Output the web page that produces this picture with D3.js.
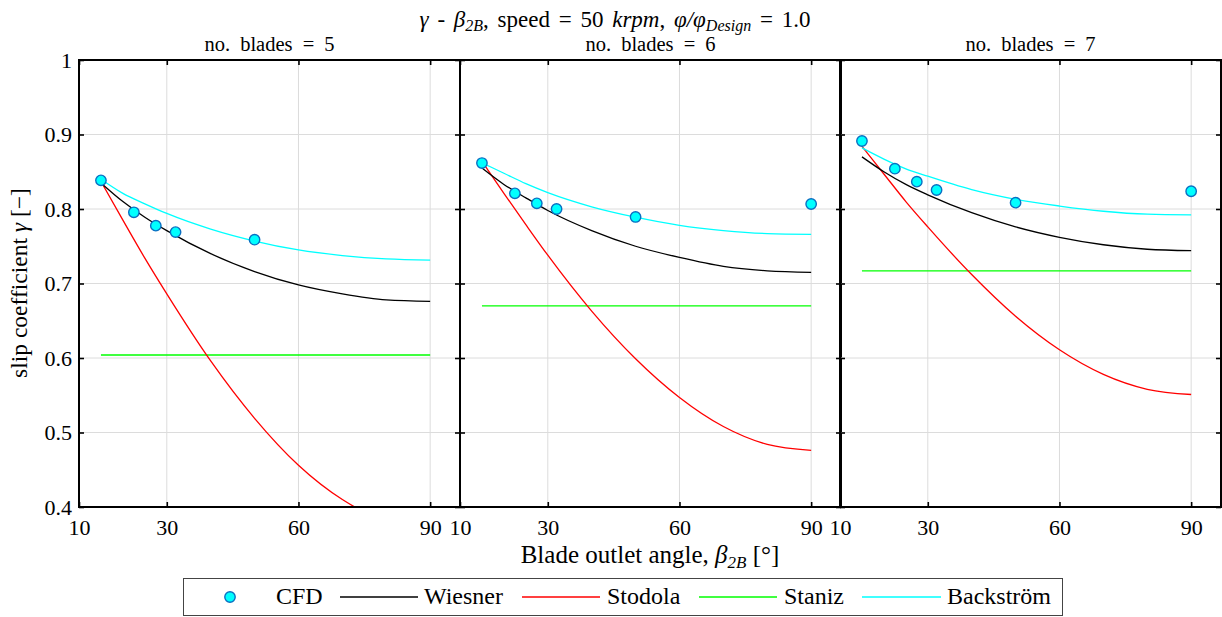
<!DOCTYPE html>
<html>
<head>
<meta charset="utf-8">
<script src="https://cdn.jsdelivr.net/npm/d3@7"></script>
<style>
  html, body { margin: 0; padding: 0; background: #fff; }
  svg { display: block; font-family: "Liberation Serif", "DejaVu Serif", serif; }
</style>
</head>
<body>
<svg id="chart" width="1222" height="617"></svg>
<script>
// ---------------- data ----------------
const blades = [5, 6, 7];
const xTicks = [10, 30, 60, 90];
const yTicks = [0.4, 0.5, 0.6, 0.7, 0.8, 0.9, 1];
const yTickLabels = ["0.4", "0.5", "0.6", "0.7", "0.8", "0.9", "1"];

// blade outlet angle samples for the correlation curves
const betaGrid = [15, 20, 25, 30, 40, 50, 60, 70, 80, 90];

const wiesner5 = [0.835, 0.810, 0.789, 0.771, 0.740, 0.716, 0.698, 0.686, 0.678, 0.676];
const wiesner6 = [0.855, 0.833, 0.815, 0.798, 0.771, 0.750, 0.735, 0.723, 0.717, 0.715];
const wiesner7 = [0.870, 0.850, 0.833, 0.819, 0.795, 0.776, 0.762, 0.752, 0.746, 0.744];

const stodola5 = [0.837, 0.785, 0.734, 0.686, 0.596, 0.519, 0.456, 0.410, 0.381, 0.372];
const stodola6 = [0.864, 0.821, 0.779, 0.738, 0.663, 0.599, 0.547, 0.508, 0.484, 0.476];
const stodola7 = [0.884, 0.847, 0.810, 0.776, 0.712, 0.656, 0.611, 0.578, 0.558, 0.551];

const stanizBeta = [15, 90];
const staniz5 = [0.604, 0.604];
const staniz6 = [0.670, 0.670];
const staniz7 = [0.717, 0.717];

const backstrom5 = [0.840, 0.821, 0.807, 0.794, 0.773, 0.757, 0.745, 0.7375, 0.733, 0.7315];
const backstrom6 = [0.862, 0.848, 0.834, 0.822, 0.803, 0.789, 0.778, 0.771, 0.767, 0.766];
const backstrom7 = [0.882, 0.867, 0.854, 0.844, 0.826, 0.813, 0.804, 0.797, 0.793, 0.792];

const cfdBeta = [15, 22.5, 27.5, 32, 50, 90];
const cfd5 = [0.8385, 0.7956, 0.7776, 0.769, 0.7588, null];
const cfd6 = [0.8617, 0.821, 0.8076, 0.800, 0.7893, 0.8067];
const cfd7 = [0.8913, 0.8541, 0.8367, 0.8255, 0.8085, 0.8238];

const seriesNames = ["CFD", "Wiesner", "Stodola", "Staniz", "Backström"];
const seriesColors = { Wiesner: "#000000", Stodola: "#ff0000", Staniz: "#00ff00", Backström: "#00ffff" };

const panels = [
  { z: blades[0], wiesner: wiesner5, stodola: stodola5, staniz: staniz5, backstrom: backstrom5, cfd: cfd5 },
  { z: blades[1], wiesner: wiesner6, stodola: stodola6, staniz: staniz6, backstrom: backstrom6, cfd: cfd6 },
  { z: blades[2], wiesner: wiesner7, stodola: stodola7, staniz: staniz7, backstrom: backstrom7, cfd: cfd7 }
];

// ---------------- layout ----------------
const svg = d3.select("#chart");
const panelLefts = [79, 460, 840];
const panelW = 381;
const plotTop = 60, plotBottom = 507;
const xDomain = [10, 96.8];

const y = d3.scaleLinear().domain([0.4, 1]).range([plotBottom, plotTop]);

const defs = svg.append("defs");

panels.forEach((p, i) => {
  const left = panelLefts[i];
  const x = d3.scaleLinear().domain(xDomain).range([left, left + panelW]);
  const g = svg.append("g");

  defs.append("clipPath").attr("id", "clip" + i)
    .append("rect").attr("x", left).attr("y", plotTop).attr("width", panelW).attr("height", plotBottom - plotTop);

  // grid
  const grid = g.append("g");
  grid.selectAll("line.vg").data(xTicks.filter(t => t > 10)).enter().append("line")
    .attr("x1", d => x(d)).attr("x2", d => x(d)).attr("y1", plotTop).attr("y2", plotBottom)
    .attr("stroke", "#dcdcdc").attr("stroke-width", 1);
  grid.selectAll("line.hg").data(yTicks.filter(t => t > 0.4 && t < 1)).enter().append("line")
    .attr("x1", left).attr("x2", left + panelW).attr("y1", d => y(d)).attr("y2", d => y(d))
    .attr("stroke", "#dcdcdc").attr("stroke-width", 1);

  // curves
  const plot = g.append("g").attr("clip-path", "url(#clip" + i + ")");
  const line = d3.line().x(d => x(d[0])).y(d => y(d[1])).curve(d3.curveMonotoneX);
  const curves = [
    { name: "Staniz", xs: stanizBeta, ys: p.staniz },
    { name: "Stodola", xs: betaGrid, ys: p.stodola },
    { name: "Wiesner", xs: betaGrid, ys: p.wiesner },
    { name: "Backström", xs: betaGrid, ys: p.backstrom }
  ];
  curves.forEach(c => {
    plot.append("path")
      .attr("d", line(c.xs.map((b, k) => [b, c.ys[k]])))
      .attr("fill", "none").attr("stroke", seriesColors[c.name]).attr("stroke-width", 1.3);
  });

  // CFD markers
  const pts = cfdBeta.map((b, k) => [b, p.cfd[k]]).filter(d => d[1] != null);
  g.append("g").selectAll("circle").data(pts).enter().append("circle")
    .attr("cx", d => x(d[0])).attr("cy", d => y(d[1])).attr("r", 5.2)
    .attr("fill", "#00ffff").attr("stroke", "#0a6fc2").attr("stroke-width", 1.4);

  // axes (inward ticks)
  const axB = d3.axisBottom(x).tickValues(xTicks).tickSize(-5).tickPadding(12).tickFormat(d3.format("d"));
  const axT = d3.axisTop(x).tickValues(xTicks).tickSize(-5).tickFormat("");
  const axL = d3.axisLeft(y).tickValues(yTicks).tickSize(-5).tickPadding(7)
    .tickFormat((d, k) => i === 0 ? yTickLabels[k] : "");
  const axR = d3.axisRight(y).tickValues(yTicks).tickSize(-5).tickFormat("");

  const gb = g.append("g").attr("transform", `translate(0,${plotBottom})`).call(axB);
  const gt = g.append("g").attr("transform", `translate(0,${plotTop})`).call(axT);
  const gl = g.append("g").attr("transform", `translate(${left},0)`).call(axL);
  const gr = g.append("g").attr("transform", `translate(${left + panelW},0)`).call(axR);
  [gb, gt, gl, gr].forEach(a => {
    a.select(".domain").remove();
    a.selectAll(".tick line").attr("stroke", "#000").attr("stroke-width", 1.6);
    a.selectAll(".tick text").attr("fill", "#000").style("font-size", "22px")
      .style("font-family", "'Liberation Serif', serif");
  });

  // box
  g.append("rect").attr("x", left).attr("y", plotTop).attr("width", panelW).attr("height", plotBottom - plotTop)
    .attr("fill", "none").attr("stroke", "#000").attr("stroke-width", 2);

  // subtitle
  g.append("text").attr("x", left + panelW / 2).attr("y", 51).attr("text-anchor", "middle")
    .style("font-size", "20.5px").style("white-space", "pre").style("word-spacing", "5px")
    .text("no. blades = " + p.z);
});

// ---------------- title ----------------
const title = svg.append("text").attr("x", 615).attr("y", 27).attr("text-anchor", "middle")
  .style("font-size", "23px").style("white-space", "pre").style("word-spacing", "3px");
title.append("tspan").style("font-style", "italic").text("γ");
title.append("tspan").text(" - ");
title.append("tspan").style("font-style", "italic").text("β");
title.append("tspan").style("font-style", "italic").style("font-size", "16px").attr("dy", 4).text("2B");
title.append("tspan").attr("dy", -4).text(", speed = 50 ");
title.append("tspan").style("font-style", "italic").text("krpm");
title.append("tspan").text(", ");
title.append("tspan").style("font-style", "italic").text("φ/φ");
title.append("tspan").style("font-style", "italic").style("font-size", "16px").attr("dy", 4).text("Design");
title.append("tspan").attr("dy", -4).text(" = 1.0");

// ---------------- axis labels ----------------
const xl = svg.append("text").attr("x", 650).attr("y", 563).attr("text-anchor", "middle")
  .style("font-size", "25px");
xl.append("tspan").text("Blade outlet angle, ");
xl.append("tspan").style("font-style", "italic").text("β");
xl.append("tspan").style("font-style", "italic").style("font-size", "17px").attr("dy", 5).text("2B");
xl.append("tspan").attr("dy", -5).text(" [°]");

const yl = svg.append("text").attr("transform", "translate(27,283) rotate(-90)").attr("text-anchor", "middle")
  .style("font-size", "23.5px");
yl.append("tspan").text("slip coefficient ");
yl.append("tspan").style("font-style", "italic").text("γ");
yl.append("tspan").text(" [−]");

// ---------------- legend ----------------
const lg = svg.append("g");
lg.append("rect").attr("x", 183.5).attr("y", 578.5).attr("width", 879).attr("height", 37)
  .attr("fill", "#fff").attr("stroke", "#444").attr("stroke-width", 1);
const ly = 597;
const legendItems = [
  { name: seriesNames[0], x0: 230, tx: 276 },
  { name: seriesNames[1], x0: 340, x1: 418, tx: 424 },
  { name: seriesNames[2], x0: 522, x1: 600, tx: 607 },
  { name: seriesNames[3], x0: 699, x1: 777, tx: 784 },
  { name: seriesNames[4], x0: 862, x1: 941, tx: 947 }
];
legendItems.forEach(it => {
  if (it.name === "CFD") {
    lg.append("circle").attr("cx", it.x0).attr("cy", ly).attr("r", 5.2)
      .attr("fill", "#00ffff").attr("stroke", "#0a6fc2").attr("stroke-width", 1.4);
  } else {
    lg.append("line").attr("x1", it.x0).attr("x2", it.x1).attr("y1", ly).attr("y2", ly)
      .attr("stroke", seriesColors[it.name]).attr("stroke-width", 1.5);
  }
  lg.append("text").attr("x", it.tx).attr("y", ly + 7).style("font-size", "24px").text(it.name);
});
</script>
</body>
</html>
